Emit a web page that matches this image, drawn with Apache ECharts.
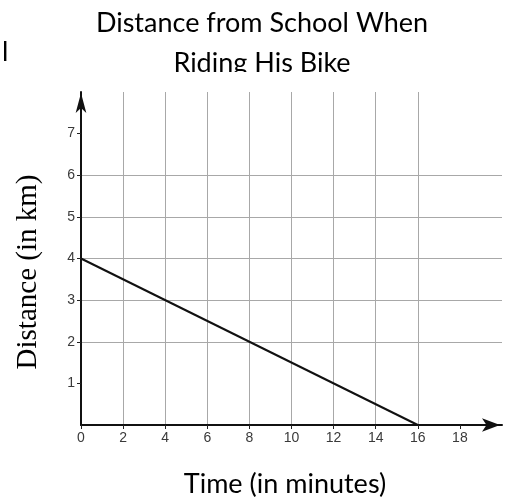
<!DOCTYPE html>
<html>
<head>
<meta charset="utf-8">
<title>Distance from School When Riding His Bike</title>
<script src="https://cdn.jsdelivr.net/npm/echarts@6/dist/echarts.min.js"></script>
<style>
  html, body { margin: 0; padding: 0; background: #fff; }
  #chart { width: 510px; height: 498px; }
</style>
</head>
<body>
<div id="chart"></div>
<script>
// data
var timeMin = [0, 16];
var distanceKm = [4, 0];
var xTicks = [0, 2, 4, 6, 8, 10, 12, 14, 16, 18];
var yTicks = [1, 2, 3, 4, 5, 6, 7];
var titleLines = ["Distance from School When", "Riding His Bike"];

var points = [];
timeMin.forEach(function (t, i) {
  points.push([t, distanceKm[i]]);
});

var labelFont = "Liberation Sans";
var bodyFont = "Lato";

var myChart = echarts.init(document.getElementById("chart"));
var option = {
  animation: false,
  backgroundColor: "#fff",
  grid: {
    left: 81,
    right: 8,
    top: 92,
    bottom: 73,
  },
  xAxis: {
    type: "value",
    min: 0,
    max: 20,
    interval: 2,
    axisLine: {
      show: true,
      symbol: ["none", "arrow"],
      symbolSize: [10, 18],
      symbolOffset: [0, -2],
      lineStyle: { color: "#111", width: 2 },
    },
    axisTick: {
      show: true,
      length: 4,
      customValues: xTicks,
      lineStyle: { color: "#222", width: 1 },
    },
    axisLabel: {
      customValues: xTicks,
      margin: 6,
      color: "#3a3a3a",
      fontSize: 14,
      fontFamily: labelFont,
    },
    splitLine: {
      show: true,
      showMinLine: false,
      showMaxLine: false,
      lineStyle: { color: "#a8a8a8", width: 1 },
    },
  },
  yAxis: {
    type: "value",
    min: 0,
    max: 8,
    interval: 1,
    axisLine: {
      show: true,
      symbol: ["none", "arrow"],
      symbolSize: [8, 20],
      symbolOffset: [0, -1],
      lineStyle: { color: "#111", width: 2 },
    },
    axisTick: {
      show: true,
      length: 4,
      customValues: yTicks,
      lineStyle: { color: "#222", width: 1 },
    },
    axisLabel: {
      customValues: yTicks,
      margin: 6,
      color: "#3a3a3a",
      fontSize: 14,
      fontFamily: labelFont,
    },
    splitLine: {
      show: true,
      showMinLine: false,
      showMaxLine: false,
      lineStyle: { color: "#a8a8a8", width: 1 },
    },
  },
  series: [
    {
      type: "line",
      data: points,
      symbol: "none",
      lineStyle: { color: "#111", width: 2 },
      z: 5,
    },
  ],
  graphic: [
    {
      type: "text",
      x: 262,
      y: 23,
      style: {
        text: titleLines[0],
        fill: "#000",
        font: "27px " + bodyFont,
        textAlign: "center",
        textVerticalAlign: "middle",
      },
    },
    {
      type: "text",
      x: 262,
      y: 63,
      style: {
        text: titleLines[1],
        fill: "#000",
        font: "27px " + bodyFont,
        textAlign: "center",
        textVerticalAlign: "middle",
      },
    },
    {
      // the chart picture covers the bottom of the second title line
      type: "rect",
      shape: { x: 150, y: 72, width: 240, height: 18 },
      style: { fill: "#fff" },
      z: 10,
    },
    {
      type: "text",
      x: 285,
      y: 484,
      style: {
        text: "Time (in minutes)",
        fill: "#000",
        font: "27px " + bodyFont,
        textAlign: "center",
        textVerticalAlign: "middle",
      },
    },
    {
      type: "text",
      x: 28,
      y: 272,
      rotation: Math.PI / 2,
      style: {
        text: "Distance (in km)",
        fill: "#000",
        font: "29px Liberation Serif",
        textAlign: "center",
        textVerticalAlign: "middle",
      },
    },
    {
      type: "text",
      x: 2,
      y: 52,
      style: {
        text: "l",
        fill: "#000",
        font: "27px " + bodyFont,
        textVerticalAlign: "middle",
      },
    },
  ],
};
myChart.setOption(option);
</script>
</body>
</html>
